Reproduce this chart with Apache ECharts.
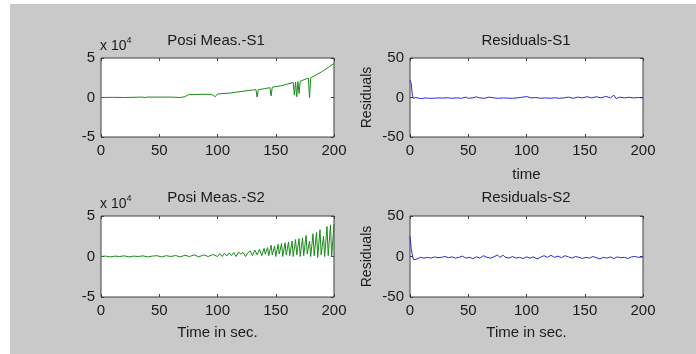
<!DOCTYPE html>
<html><head><meta charset="utf-8">
<script src="https://cdn.jsdelivr.net/npm/echarts@6/dist/echarts.min.js"></script>
<style>
html,body{margin:0;padding:0;background:#fff;}
#c{width:696px;height:354px;background:linear-gradient(to right,#fff 10px,transparent 10px),linear-gradient(#fff 4px,#c9c9c9 4px);}
</style></head>
<body><div id="c"></div>
<script>
// time ticks
const xTicks = [0, 50, 100, 150, 200];
const posTicks = [-5, 0, 5];     // x 10^4
const resTicks = [-50, 0, 50];

// Position measurement S1 (units of 10^4): [time, value]
const posS1 = [[0,0],[10,0.02],[20,0],[35,0.05],[38,0],[40,0.05],[60,0.05],[68,0],[72,0.1],[75,0.35],[85,0.4],[95,0.4],[98,0.1],[100,0.45],[110,0.55],[120,0.75],[130,0.95],[133,1.0],[134,0.05],[135,1.0],[140,1.1],[145,1.25],[146,0.2],[147,1.3],[155,1.5],[160,1.7],[165,1.9],[166,0.3],[167,1.95],[168,0.1],[169,2.0],[170,0.5],[171,2.05],[175,2.3],[178,2.45],[179,0.0],[180,2.5],[185,2.9],[190,3.3],[195,3.8],[200,4.3]];

// Position measurement S2 (units of 10^4)
const posS2 = [[0,0],[4,0.05],[8,-0.05],[12,0.05],[16,0],[20,0.08],[24,-0.05],[28,0.05],[32,0],[36,0.08],[40,-0.05],[44,0.05],[48,0.1],[52,-0.05],[56,0.1],[60,0],[64,0.12],[68,-0.05],[72,0.15],[76,0],[80,0.2],[84,-0.05],[88,0.2],[92,0],[96,0.25],[100,0],
[102,0.35],[104,0],[106,0.4],[108,0.05],[110,0.45],[112,0.1],[114,0.5],[116,0],[118,0.55],[120,0.3],[122,0.5],[124,0],[126,0.45],[128,0.7],[130,0.1],[132,0.8],[134,0.2],[136,0.9],[138,0.1],[140,1.0],
[141,0.3],[143,1.1],[144,0.1],[146,1.4],[147,0.2],[149,1.3],[150,0],[152,1.5],[153,0.3],[155,1.6],[156,0],[158,1.7],[159,0.2],[161,1.8],[162,0.1],[164,1.9],[165,0],[167,2.1],[168,0.2],[170,2.2],[171,0],[173,2.3],[174,0.1],[176,2.6],[177,0.3],[179,1.9],[180,0],[182,2.8],[183,0.1],[185,3.0],[186,-0.1],[188,3.3],[189,0.2],[191,2.5],[192,0],[194,3.7],[195,0.1],[197,3.9],[198,0],[200,4.0]];

// Residuals S1
const resS1 = [[0,22],[1,18],[2,3],[3,-1],[5,0],[8,-1],[10,-1.5],[13,-0.5],[16,-1],[20,-1],[24,-0.5],[28,-0.8],[32,-0.3],[36,-1],[40,-0.5],[44,-1],[48,0.5],[50,-1],[54,-0.5],[57,0.8],[60,-0.5],[64,-1],[68,0.5],[72,-0.5],[76,-1],[80,-0.5],[84,-0.8],[88,-1],[92,-0.5],[96,0.3],[100,1.2],[104,-0.5],[108,0],[112,-1],[116,-0.5],[120,-1],[124,-0.3],[128,-1],[132,-0.5],[136,0.5],[140,-1],[144,0.5],[148,-0.5],[152,1],[156,-0.5],[160,1],[164,-0.5],[168,1.5],[172,-0.5],[175,3],[177,-1.5],[180,0.5],[184,-0.5],[188,0.3],[192,-0.5],[196,0],[200,-0.5]];

// Residuals S2
const resS2 = [[0,25],[1,10],[2,2],[3,-4],[4,-2],[6,-3],[9,-1],[12,-2],[15,-1],[18,-2],[21,-0.5],[24,-1.5],[27,-1],[30,0],[33,-1.5],[36,-0.5],[39,-2],[42,-1],[45,0.5],[48,-2],[51,-1],[54,-2.5],[57,-0.5],[60,-2],[63,1],[66,-1],[69,-2],[72,-0.5],[75,2],[77,-1],[80,1.5],[82,-1],[85,-2],[88,0],[91,-2],[94,-1],[97,-2.5],[100,-0.5],[103,-2],[106,-0.5],[109,-3],[112,-1],[115,1],[118,-1],[121,1.5],[124,-1],[127,0.5],[130,-1.5],[133,1],[136,-0.5],[139,-2],[142,0],[145,-1],[148,-2.5],[151,-1],[154,-2],[157,0],[160,-1.5],[163,-3],[166,-1],[169,-2],[172,-0.5],[175,-2.5],[178,-0.5],[181,-1.5],[184,-1],[187,-2.5],[190,-0.5],[193,0],[196,-1],[200,-0.5]];

const FONT = 'Liberation Sans, Arial, sans-serif';
const TXT = '#1a1a1a';
const AX = '#404040';

const grids = [
  {left:101, top:58, width:233, height:79},
  {left:410, top:58, width:233, height:79},
  {left:101, top:216, width:233, height:81},
  {left:410, top:216, width:233, height:81}
].map(g => Object.assign({show:true, backgroundColor:'#fff', borderColor:AX, borderWidth:1}, g));

const xAxes = [], yAxes = [];
const xNames = ['', 'time', 'Time in sec.', 'Time in sec.'];
const yRanges = [posTicks, resTicks, posTicks, resTicks];
for (let i = 0; i < 4; i++) {
  const common = {gridIndex:i, type:'value', min:xTicks[0], max:xTicks[xTicks.length-1], interval:xTicks[1]-xTicks[0],
    axisLine:{show:false, onZero:false}, splitLine:{show:false},
    axisTick:{inside:true, length:3, lineStyle:{color:AX}}};
  xAxes.push(Object.assign({}, common, {position:'bottom',
    axisLabel:{color:TXT, fontFamily:FONT, fontSize:15, margin:6},
    name:xNames[i], nameLocation:'middle', nameGap:(i === 1 ? 30 : 28),
    nameTextStyle:{color:TXT, fontFamily:FONT, fontSize:15}}));
  xAxes.push(Object.assign({}, common, {position:'top', axisLabel:{show:false}}));
  const t = yRanges[i];
  const yc = {gridIndex:i, type:'value', min:t[0], max:t[t.length-1], interval:t[1]-t[0],
    axisLine:{show:false, onZero:false}, splitLine:{show:false},
    axisTick:{inside:true, length:3, lineStyle:{color:AX}}};
  yAxes.push(Object.assign({}, yc, {position:'left',
    axisLabel:{color:TXT, fontFamily:FONT, fontSize:15, margin:6},
    name:(i % 2 === 1) ? 'Residuals' : '', nameLocation:'middle', nameGap:36, nameRotate:90,
    nameTextStyle:{color:TXT, fontFamily:FONT, fontSize:14}}));
  yAxes.push(Object.assign({}, yc, {position:'right', axisLabel:{show:false}}));
}

const seriesData = [posS1, resS1, posS2, resS2];
const colors = ['#1a8a1a', '#2b2bd8', '#1a8a1a', '#2b2bd8'];
const series = seriesData.map((d, i) => ({
  type:'line', xAxisIndex:i*2, yAxisIndex:i*2, data:d, showSymbol:false, symbol:'none',
  lineStyle:{color:colors[i], width:1}, animation:false
}));

function txt(x, y, s, size) {
  return {type:'text', x:x, y:y, style:{text:s, font:size+'px '+FONT, fill:TXT, align:'center', verticalAlign:'middle'}};
}
function sci(y) {
  return {type:'text', x:100, y:y, style:{text:'x 10{s|4}', font:'14px '+FONT, fill:TXT, align:'left', verticalAlign:'middle',
    rich:{s:{fontSize:9, verticalAlign:'top', padding:[0,0,10,0], fontFamily:FONT, fill:TXT}}}};
}
const graphic = [
  txt(216, 41, 'Posi Meas.-S1', 15),
  txt(526, 41, 'Residuals-S1', 15),
  txt(216, 198, 'Posi Meas.-S2', 15),
  txt(526, 198, 'Residuals-S2', 15),
  sci(46), sci(204)
];

const chart = echarts.init(document.getElementById('c'), null, {renderer:'canvas'});
chart.setOption({backgroundColor:'transparent', animation:false, grid:grids, xAxis:xAxes, yAxis:yAxes, series:series, graphic:graphic});
</script></body></html>
